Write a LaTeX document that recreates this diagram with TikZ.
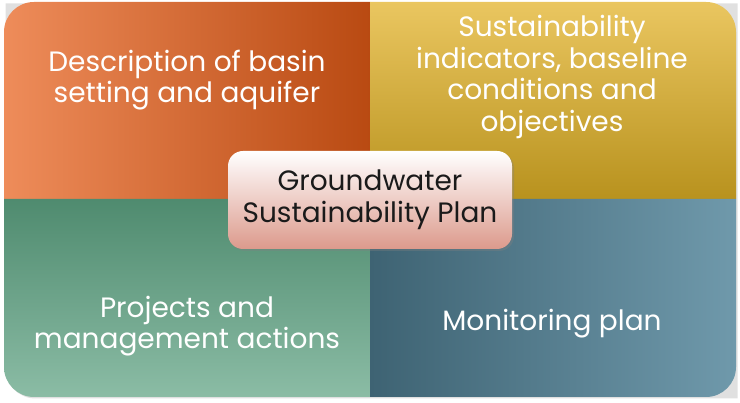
\documentclass[tikz,border=0pt]{standalone}
\usepackage{fontspec}
\setmainfont{Poppins}
\usepackage{tikz}
\usetikzlibrary{shadows}

\definecolor{rustL}{HTML}{EE8C5A}
\definecolor{rustR}{HTML}{B94A12}
\definecolor{goldT}{HTML}{EAC660}
\definecolor{goldB}{HTML}{B8921E}
\definecolor{sageT}{HTML}{4F8B6F}
\definecolor{sageB}{HTML}{8BBCA5}
\definecolor{slateL}{HTML}{3E6373}
\definecolor{slateR}{HTML}{6F99AB}
\definecolor{blushB}{HTML}{DC9A8C}
\definecolor{inkGray}{HTML}{1A1A1A}

\begin{document}
\begin{tikzpicture}[x=1pt,y=1pt]
    \tikzstyle{every node} = [font=\fontsize{28}{31.5}\selectfont]
    \tikzstyle{quadtext} = [text=white, align=center, inner sep=0pt]
    \tikzstyle{hub} = [rectangle, rounded corners=15pt, top color=white, bottom color=blushB, minimum width=284pt, minimum height=98pt, text=inkGray, align=center, drop shadow={shadow xshift=2pt, shadow yshift=-2pt, opacity=0.35}]
    \useasboundingbox (0,0) rectangle (740,403);

    % quadrants
    \fill[black,opacity=0.12] (5.5,34.5) arc[start angle=180,end angle=270,radius=30] -- (737.5,4.5) -- (737.5,399.5) -- (5.5,399.5) -- cycle;
    \shade[left color=rustL, right color=rustR] (4,204) -- (4,371) arc[start angle=180,end angle=90,radius=30] -- (370,401) -- (370,204) -- cycle;
    \shade[top color=goldT, bottom color=goldB] (370,204) -- (370,401) -- (706,401) arc[start angle=90,end angle=0,radius=30] -- (736,204) -- cycle;
    \shade[top color=sageT, bottom color=sageB] (4,204) -- (4,36) arc[start angle=180,end angle=270,radius=30] -- (370,6) -- (370,204) -- cycle;
    \shade[left color=slateL, right color=slateR] (370,204) -- (370,6) -- (706,6) arc[start angle=270,end angle=360,radius=30] -- (736,204) -- cycle;

    % place nodes
    \node[quadtext] (basinSetting) at (187,323) {Description of basin\\setting and aquifer};
    \node[quadtext] (sustIndicators) at (552,326) {Sustainability\\indicators, baseline\\conditions and\\objectives};
    \node[quadtext] (mgmtActions) at (187,77) {Projects and\\management actions};
    \node[quadtext] (monitoringPlan) at (552,79) {Monitoring plan};
    \node[hub] (gspPlan) at (370,203) {Groundwater\\Sustainability Plan};

\end{tikzpicture}
\end{document}
